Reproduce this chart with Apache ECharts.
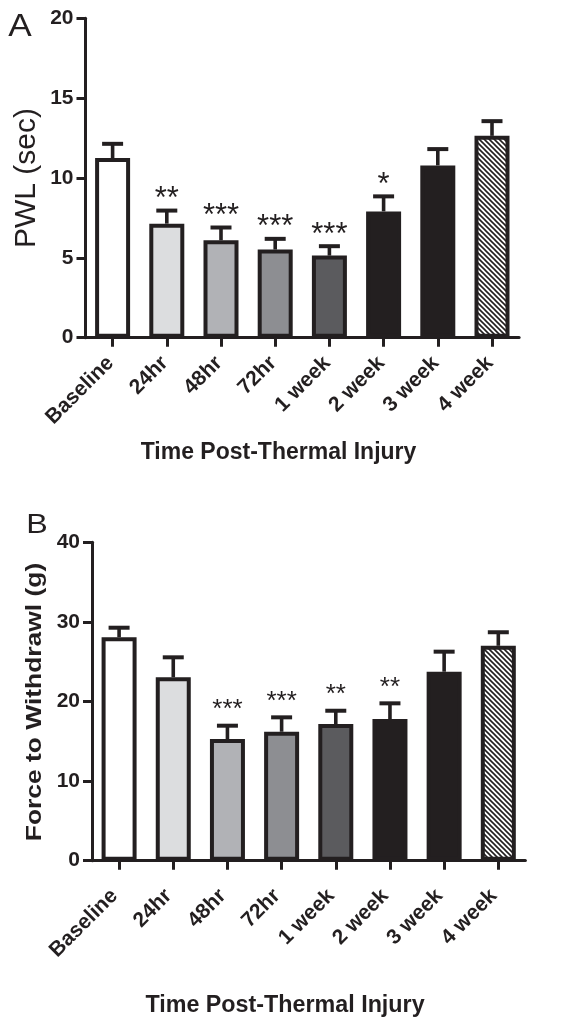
<!DOCTYPE html>
<html><head><meta charset="utf-8">
<script src="https://cdn.jsdelivr.net/npm/echarts@6/dist/echarts.min.js"></script>
<style>html,body{margin:0;padding:0;background:#fff}#c{width:577px;height:1023px}</style>
</head><body><div id="c"></div>
<script>
// ---- data ----
const categories = ['Baseline', '24hr', '48hr', '72hr', '1 week', '2 week', '3 week', '4 week'];
const pwlMean = [11.25, 7.14, 6.10, 5.52, 5.14, 7.91, 10.79, 12.64];
const pwlSem = [0.89, 0.82, 0.80, 0.67, 0.59, 0.94, 1.02, 0.92];
const pwlSig = ['', '**', '***', '***', '***', '*', '', ''];
const forceMean = [28.07, 23.04, 15.29, 16.20, 17.17, 17.80, 23.74, 27.00];
const forceSem = [1.20, 2.51, 1.67, 1.81, 1.67, 1.97, 2.52, 1.70];
const forceSig = ['', '', '***', '***', '**', '**', '', ''];
const pwlTicks = [0, 5, 10, 15, 20];
const forceTicks = [0, 10, 20, 30, 40];

// ---- style ----
const ink = '#231f20';
const FONT = '"Liberation Sans", Arial, Helvetica, sans-serif';
const P = 5;
const pc = document.createElement('canvas');
pc.width = P; pc.height = P;
const g = pc.getContext('2d');
g.fillStyle = '#ffffff'; g.fillRect(0, 0, P, P);
g.strokeStyle = ink; g.lineWidth = 1.6;
g.beginPath();
g.moveTo(-1, -1); g.lineTo(P + 1, P + 1);
g.moveTo(-1, P - 1); g.lineTo(1, P + 1);
g.moveTo(P - 1, -1); g.lineTo(P + 1, 1);
g.stroke();
const hatch = { image: pc, repeat: 'repeat' };
const fills = ['#ffffff', '#dcdddf', '#b1b2b6', '#8d8e92', '#5b5b5e', ink, ink, hatch];

function barData(vals) {
  return vals.map((v, i) => ({ value: v, itemStyle: { color: fills[i] } }));
}
function errData(mean, sem) {
  return mean.map((m, i) => [i, m, sem[i]]);
}
function errRender(sig, fontSize, gap) {
  return function (params, api) {
    const i = api.value(0);
    const base = api.coord([i, api.value(1)]);
    const top = api.coord([i, api.value(1) + api.value(2)]);
    const half = 10.5;
    const ch = [
      { type: 'line', shape: { x1: base[0], y1: base[1], x2: top[0], y2: top[1] }, style: { stroke: ink, lineWidth: 3.6 } },
      { type: 'line', shape: { x1: top[0] - half, y1: top[1], x2: top[0] + half, y2: top[1] }, style: { stroke: ink, lineWidth: 4 } }
    ];
    if (sig[i]) {
      ch.push({ type: 'text', x: top[0], y: top[1] - gap,
        style: { text: sig[i], fill: ink, font: fontSize + 'px ' + FONT, align: 'center', verticalAlign: 'middle' } });
    }
    return { type: 'group', children: ch };
  };
}

function yAxisCfg(gi, ticks) {
  return {
    type: 'value', gridIndex: gi, min: ticks[0], max: ticks[ticks.length - 1],
    interval: ticks[1] - ticks[0],
    axisLine: { show: true, lineStyle: { color: ink, width: 3 } },
    axisTick: { show: true, length: 9, lineStyle: { color: ink, width: 3 } },
    axisLabel: { color: ink, fontSize: 21, fontWeight: 'bold', fontFamily: FONT, margin: 12 },
    splitLine: { show: false }
  };
}
function xAxisCfg(gi, margin, pad) {
  return {
    type: 'category', gridIndex: gi, data: categories,
    axisLine: { show: true, lineStyle: { color: ink, width: 3 } },
    axisTick: { show: true, alignWithLabel: true, length: 9, lineStyle: { color: ink, width: 3 } },
    axisLabel: { color: ink, fontSize: 21, fontWeight: 'bold', fontFamily: FONT, rotate: 45, interval: 0,
      margin: margin, padding: [0, pad, 0, 0] }
  };
}

const chart = echarts.init(document.getElementById('c'), null, { renderer: 'canvas' });
chart.setOption({
  animation: false,
  backgroundColor: '#ffffff',
  grid: [
    { left: 85.5, right: 57.9, top: 18.3, bottom: 685.3 },
    { left: 92, right: 51.6, top: 542.3, bottom: 162.3 }
  ],
  xAxis: [xAxisCfg(0, 20, 3), xAxisCfg(1, 27.3, 6.7)],
  yAxis: [yAxisCfg(0, pwlTicks), yAxisCfg(1, forceTicks)],
  series: [
    { type: 'bar', xAxisIndex: 0, yAxisIndex: 0, data: barData(pwlMean), barWidth: 35,
      itemStyle: { borderColor: ink, borderWidth: 4 } },
    { type: 'custom', xAxisIndex: 0, yAxisIndex: 0, data: errData(pwlMean, pwlSem),
      renderItem: errRender(pwlSig, 31, 11), z: 5 },
    { type: 'bar', xAxisIndex: 1, yAxisIndex: 1, data: barData(forceMean), barWidth: 35,
      itemStyle: { borderColor: ink, borderWidth: 4 } },
    { type: 'custom', xAxisIndex: 1, yAxisIndex: 1, data: errData(forceMean, forceSem),
      renderItem: errRender(forceSig, 26, 16), z: 5 }
  ],
  graphic: [
    { type: 'text', x: 20, y: 27, scaleX: 1.1, style: { text: 'A', font: '32px ' + FONT, fill: ink, align: 'center', verticalAlign: 'middle' } },
    { type: 'text', x: 37, y: 525, scaleX: 1.15, style: { text: 'B', font: '28px ' + FONT, fill: ink, align: 'center', verticalAlign: 'middle' } },
    { type: 'text', x: 27, y: 178, rotation: Math.PI / 2,
      style: { text: 'PWL (sec)', font: '30px ' + FONT, fill: ink, align: 'center', verticalAlign: 'middle' } },
    { type: 'text', x: 35, y: 702, rotation: Math.PI / 2, scaleX: 1.2,
      style: { text: 'Force to Withdrawl (g)', font: 'bold 22px ' + FONT, fill: ink, align: 'center', verticalAlign: 'middle' } },
    { type: 'text', x: 278.5, y: 453,
      style: { text: 'Time Post-Thermal Injury', font: 'bold 23px ' + FONT, fill: ink, align: 'center', verticalAlign: 'middle' } },
    { type: 'text', x: 285, y: 1006,
      style: { text: 'Time Post-Thermal Injury', font: 'bold 23.3px ' + FONT, fill: ink, align: 'center', verticalAlign: 'middle' } }
  ]
});
</script>
</body></html>
